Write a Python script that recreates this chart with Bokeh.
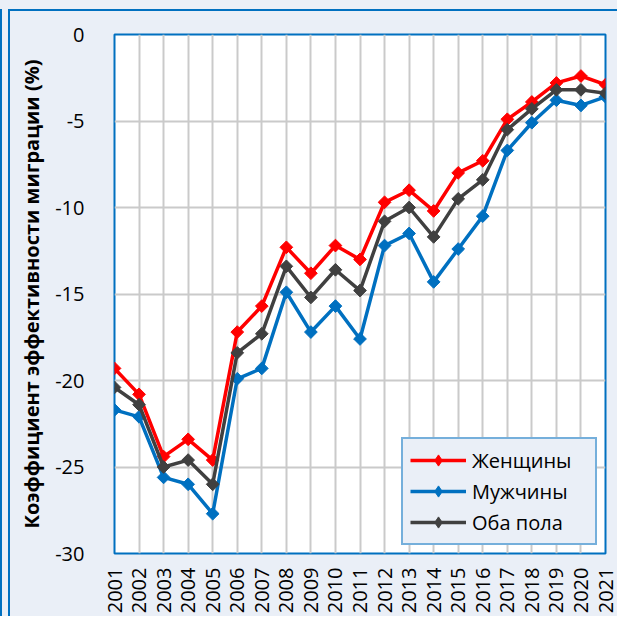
import numpy as np
from bokeh.plotting import figure
from bokeh.models import Range1d, FixedTicker, Legend, LegendItem
from bokeh.embed import file_html
from bokeh.resources import INLINE

years = list(range(2001, 2022))
women = [-19.3, -20.8, -24.4, -23.4, -24.6, -17.2, -15.7, -12.3, -13.8, -12.2, -13.0,
         -9.7, -9.0, -10.2, -8.0, -7.3, -4.9, -3.9, -2.8, -2.4, -2.9]
men = [-21.7, -22.1, -25.6, -26.0, -27.7, -19.9, -19.3, -14.9, -17.2, -15.7, -17.6,
       -12.2, -11.5, -14.3, -12.4, -10.5, -6.7, -5.1, -3.8, -4.1, -3.6]
both = [-20.4, -21.4, -25.0, -24.6, -26.0, -18.4, -17.3, -13.4, -15.2, -13.6, -14.8,
        -10.8, -10.0, -11.7, -9.5, -8.4, -5.5, -4.3, -3.2, -3.2, -3.4]
series_names = ["Женщины", "Мужчины", "Оба пола"]
y_ticks = [0, -5, -10, -15, -20, -25, -30]
y_tick_labels = ["0", "-5", "-10", "-15", "-20", "-25", "-30"]
y_label = "Коэффициент эффективности миграции (%)"

colors = ["#FF0000", "#0070C0", "#404040"]
bg = "#EAEFF7"
edge = "#0070C0"
font = "Open Sans"

W, H = 617, 616
BL, BR, BT, BB = 114, 12, 34, 62

p = figure(width=W, height=H, output_backend="svg", toolbar_location=None,
           x_range=Range1d(2001, 2021), y_range=Range1d(-30, 0),
           min_border_left=BL, min_border_right=BR, min_border_top=BT, min_border_bottom=BB)
p.border_fill_alpha = 0
p.background_fill_color = "white"
p.outline_line_color = edge
p.outline_line_width = 2
# page-level background with the chart-area border lines
g = f"linear-gradient({edge}, {edge})"
p.styles = {
    "background": (
        f"{g} 8px 9px / 2px 100% no-repeat, "
        f"{g} 8px 9px / 100% 2px no-repeat, "
        f"{g} 0px 9px / 2px 100% no-repeat, "
        f"{bg}"
    )
}

p.xaxis.ticker = FixedTicker(ticks=years)
p.yaxis.ticker = FixedTicker(ticks=y_ticks)
p.yaxis.major_label_overrides = {t: s for t, s in zip(y_ticks, y_tick_labels)}
p.xgrid.grid_line_color = "#CACACA"
p.xgrid.grid_line_width = 2
p.ygrid.grid_line_color = "#CACACA"
p.ygrid.grid_line_width = 2

for ax in (p.xaxis[0], p.yaxis[0]):
    ax.axis_line_color = None
    ax.major_tick_line_color = None
    ax.minor_tick_line_color = None
    ax.major_label_text_font = font
    ax.major_label_text_font_size = "20px"
    ax.major_label_text_color = "black"

p.xaxis.major_label_orientation = np.pi / 2
p.xaxis.major_label_standoff = 8
p.yaxis.major_label_standoff = 24
p.yaxis.axis_label = y_label
p.yaxis.axis_label_text_font = font
p.yaxis.axis_label_text_font_size = "20px"
p.yaxis.axis_label_text_font_style = "bold"
p.yaxis.axis_label_text_color = "black"
p.yaxis.axis_label_standoff = 7

items = []
for name, vals, c in zip(series_names, [women, men, both], colors):
    ln = p.line(years, vals, line_color=c, line_width=3.5)
    p.scatter(years, vals, marker="square", angle=np.pi / 4, size=9,
              fill_color=c, line_color=c)
    # hidden diamond renderer used only for the legend glyph
    lg = p.scatter(years, vals, marker="diamond", size=15,
                   fill_color=c, line_color=c, visible=False)
    items.append(LegendItem(label=name, renderers=[ln, lg]))

legend = Legend(items=items, location="bottom_right")
legend.label_text_font = font
legend.label_text_font_size = "20px"
legend.label_text_color = "black"
legend.border_line_color = edge
legend.border_line_width = 2
legend.background_fill_color = bg
legend.background_fill_alpha = 1
legend.glyph_width = 56
legend.glyph_height = 28
legend.label_standoff = 6
legend.label_width = 116
legend.spacing = 3
legend.padding = 7
legend.margin = 8
p.add_layout(legend)

open("out.html", "w").write(file_html(p, INLINE))
